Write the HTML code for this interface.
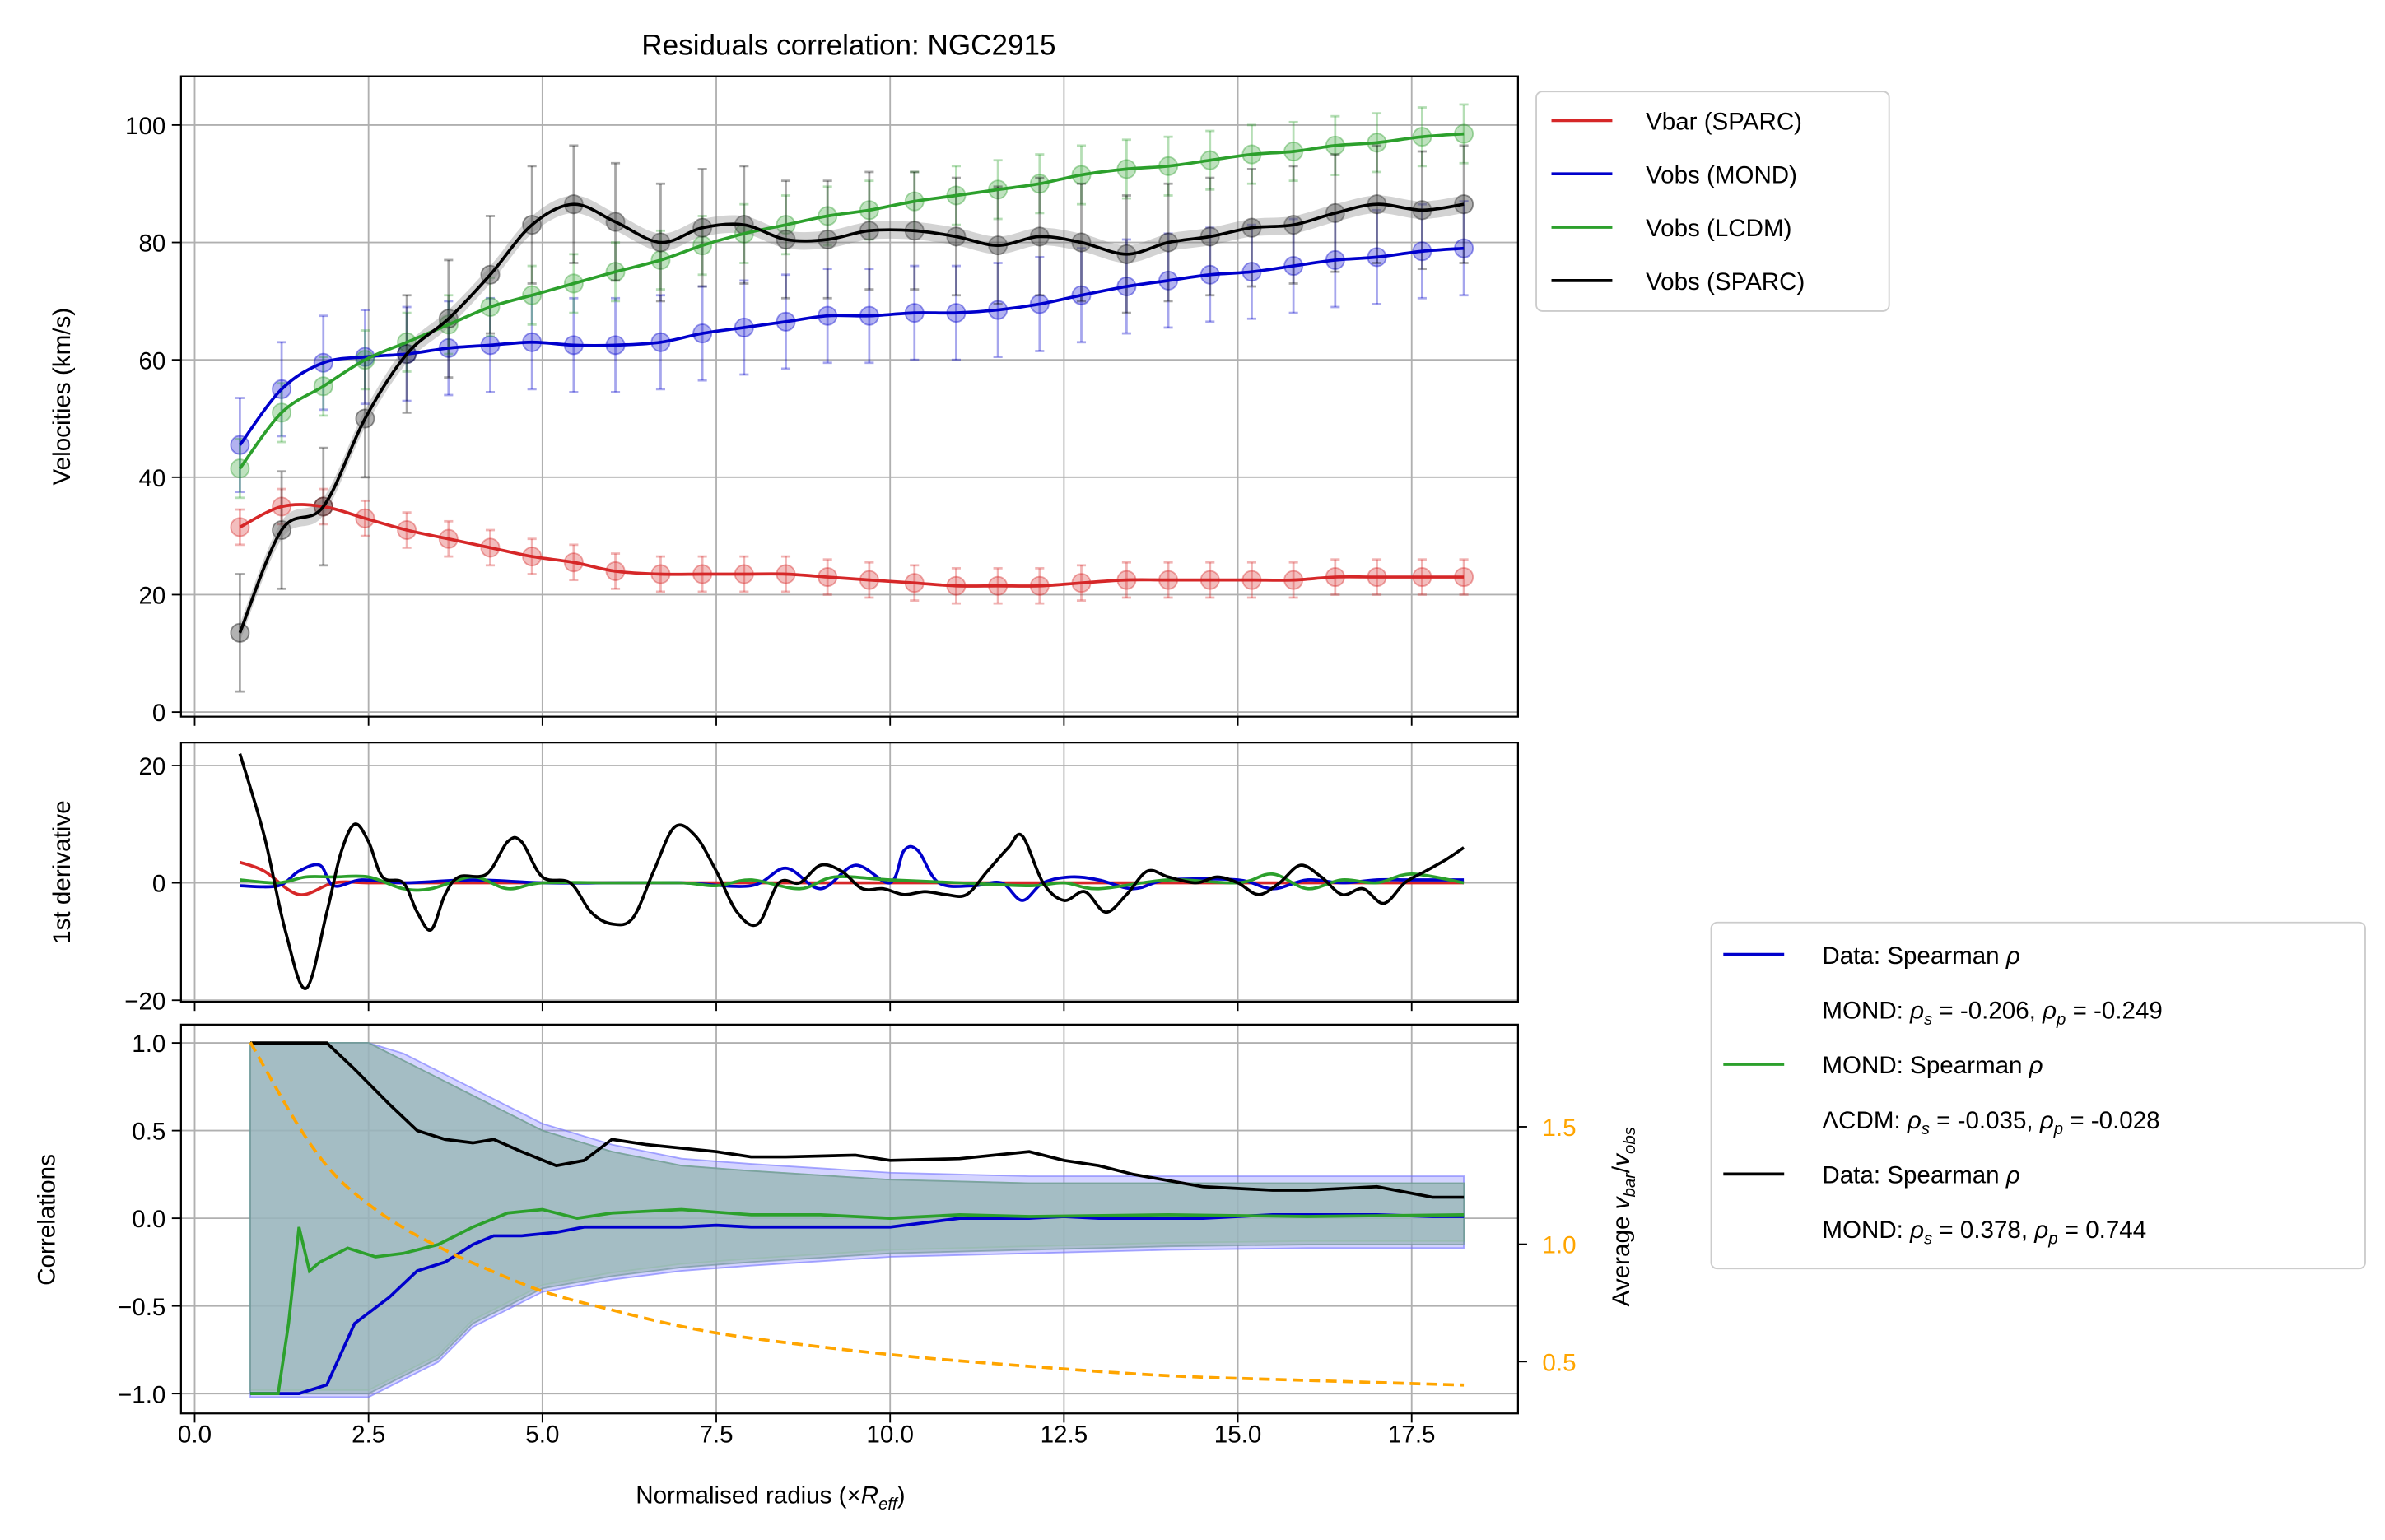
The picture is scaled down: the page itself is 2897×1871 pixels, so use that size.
<!DOCTYPE html>
<html><head><meta charset="utf-8">
<style>
html,body{margin:0;padding:0;background:#fff;}
svg{display:block;font-family:"Liberation Sans","DejaVu Sans",sans-serif;}
</style></head>
<body>
<svg id="chart" width="2897" height="1871" viewBox="0 0 1568 1010" preserveAspectRatio="none" xmlns="http://www.w3.org/2000/svg">
<rect width="1568" height="1010" fill="#fff"/>
</svg>
<script>
// ---- data ----
const radii = [0.65,1.25,1.85,2.45,3.05,3.65,4.25,4.85,5.45,6.05,6.7,7.3,7.9,8.5,9.1,9.7,10.35,10.95,11.55,12.15,12.75,13.4,14.0,14.6,15.2,15.8,16.4,17.0,17.65,18.25];
const vbar = [31.5,35,35,33,31,29.5,28,26.5,25.5,24,23.5,23.5,23.5,23.5,23,22.5,22,21.5,21.5,21.5,22,22.5,22.5,22.5,22.5,22.5,23,23,23,23];
const vmond = [45.5,55,59.5,60.5,61,62,62.5,63,62.5,62.5,63,64.5,65.5,66.5,67.5,67.5,68,68,68.5,69.5,71,72.5,73.5,74.5,75,76,77,77.5,78.5,79];
const vlcdm = [41.5,51,55.5,60,63,66,69,71,73,75,77,79.5,81.5,83,84.5,85.5,87,88,89,90,91.5,92.5,93,94,95,95.5,96.5,97,98,98.5];
const vsparc = [13.5,31,35,50,61,67,74.5,83,86.5,83.5,80,82.5,83,80.5,80.5,82,82,81,79.5,81,80,78,80,81,82.5,83,85,86.5,85.5,86.5];
const errBar = 3, errMond = 8, errLcdm = 5, errSparc = 10;

const dBlackX = [0.65,1.0,1.3,1.6,1.9,2.1,2.3,2.5,2.7,3.0,3.2,3.4,3.6,3.8,4.2,4.5,4.7,5.0,5.4,5.7,6.0,6.3,6.6,6.9,7.2,7.5,7.8,8.1,8.4,8.7,9.0,9.3,9.6,9.9,10.2,10.5,10.8,11.1,11.4,11.7,11.9,12.2,12.5,12.8,13.1,13.4,13.7,14.0,14.4,14.7,15.0,15.3,15.6,15.9,16.2,16.5,16.8,17.1,17.4,17.7,18.0,18.25];
const dBlackY = [22,8,-8,-18,-5,5,10,7,1,0,-5,-8,-2,1,1.5,7,7,1,0,-5,-7,-6,2,9.5,8,2,-5,-7,0,0,3,2,-1,-1,-2,-1.5,-2,-2,2,6,8,0,-3,-1.5,-5,-2,2,1,0,1,0,-2,0,3,1,-2,-1,-3.5,0,2,4,6];
const dBlueX = [0.65,1.2,1.5,1.8,2.0,2.4,3.0,4.0,5.0,6.0,7.0,8.0,8.5,9.0,9.5,10.0,10.2,10.4,10.7,11.2,11.6,11.9,12.2,12.6,13.0,13.5,14.0,15.0,15.5,16.0,16.5,17.0,17.5,18.25];
const dBlueY = [-0.5,-0.5,2,3,-0.5,0.5,0,0.5,0,0,0,-0.5,2.5,-1,3,0,5.5,5.5,0,-0.5,0,-3,0,1,0.5,-1,0.5,0.5,-1,0.5,0,0.5,0.5,0.5];
const dGreenX = [0.65,1.2,1.6,2.0,2.5,3.0,3.4,4.0,4.5,5.0,6.0,7.0,7.5,8.0,8.7,9.2,10.0,11.0,12.0,12.5,13.0,14.0,15.0,15.5,16.0,16.5,17.0,17.5,18.25];
const dGreenY = [0.5,0,1,1,1,-1,-1,1,-1,0,0,0,-0.5,0.5,-1,1,0.5,0,-0.5,0,-1,0.5,0,1.5,-1,0.5,0,1.5,0];
const dRedX = [0.65,1.0,1.5,2.0,2.5,3.0,5.0,8.0,10.0,12.0,15.0,18.25];
const dRedY = [3.5,2,-2,0,0,0,0,0,0,0,0,0];

const corrX = [0.8,1.2,1.5,1.9,2.3,2.8,3.2,3.6,4.0,4.3,4.7,5.2,5.6,6.0,6.5,7.0,7.5,8.0,8.5,9.5,10.0,11.0,12.0,12.5,13.0,13.5,14.5,15.5,16.0,17.0,17.8,18.25];
const corrBlack = [1,1,1,1,0.85,0.65,0.5,0.45,0.43,0.45,0.38,0.3,0.33,0.45,0.42,0.4,0.38,0.35,0.35,0.36,0.33,0.34,0.38,0.33,0.3,0.25,0.18,0.16,0.16,0.18,0.12,0.12];
const corrBlue = [-1,-1,-1,-0.95,-0.6,-0.45,-0.3,-0.25,-0.15,-0.1,-0.1,-0.08,-0.05,-0.05,-0.05,-0.05,-0.04,-0.05,-0.05,-0.05,-0.05,0,0,0.01,0,0,0,0.02,0.02,0.02,0.01,0.01];
const corrGreenX = [0.8,1.2,1.35,1.5,1.65,1.8,2.2,2.6,3.0,3.5,4.0,4.5,5.0,5.5,6.0,7.0,8.0,9.0,10.0,11.0,12.0,14.0,16.0,18.25];
const corrGreen = [-1,-1,-0.6,-0.05,-0.3,-0.25,-0.17,-0.22,-0.2,-0.15,-0.05,0.03,0.05,0.0,0.03,0.05,0.02,0.02,0.0,0.02,0.01,0.02,0.01,0.02];
const bandX = [0.8,2.5,3.0,3.5,4.0,4.5,5.0,6.0,7.0,8.0,10.0,12.0,14.0,16.0,18.25];
const bandUpper = [1,1,0.9,0.8,0.7,0.6,0.5,0.38,0.3,0.27,0.22,0.2,0.2,0.2,0.2];
const bandLower = [-1,-1,-0.9,-0.8,-0.6,-0.5,-0.4,-0.33,-0.28,-0.25,-0.2,-0.18,-0.16,-0.15,-0.15];
const ratioX = [0.8,1.5,2,2.5,3,3.5,4,5,6,7,8,10,12,14,16,18.25];
const ratioY = [1.86,1.5,1.3,1.17,1.07,0.99,0.92,0.8,0.72,0.65,0.6,0.53,0.48,0.44,0.42,0.40];

const xTicks = [0,2.5,5,7.5,10,12.5,15,17.5];
const xTickLabels = ["0.0","2.5","5.0","7.5","10.0","12.5","15.0","17.5"];
const yTopTicks = [0,20,40,60,80,100];
const yMidTicks = [-20,0,20];
const yBotTicks = [-1,-0.5,0,0.5,1];
const yBotLabels = ["\u22121.0","\u22120.5","0.0","0.5","1.0"];
const yRightTicks = [0.5,1.0,1.5];

// ---- scales ----
const L=119,R=998;
const X = v => 128 + v*45.72;
const Ytop = v => 467 - v*3.85;
const Ymid = v => 579 - v*3.85;
const Ybot = v => 799 - v*115;
const Yright = v => 816 - (v-1)*154;

const svg = document.getElementById('chart');
const NS='http://www.w3.org/2000/svg';
function mk(tag, attrs, parent){const e=document.createElementNS(NS,tag);for(const k in attrs)e.setAttribute(k,attrs[k]);(parent||svg).appendChild(e);return e;}
function smooth(xs, ys, fx, fy){
  const p=xs.map((x,i)=>[fx(x),fy(ys[i])]);
  let d='M'+p[0][0]+','+p[0][1];
  for(let i=0;i<p.length-1;i++){
    const p0=p[i-1]||p[i],p1=p[i],p2=p[i+1],p3=p[i+2]||p2;
    const c1=[p1[0]+(p2[0]-p0[0])/6,p1[1]+(p2[1]-p0[1])/6];
    const c2=[p2[0]-(p3[0]-p1[0])/6,p2[1]-(p3[1]-p1[1])/6];
    d+=` C${c1[0]},${c1[1]} ${c2[0]},${c2[1]} ${p2[0]},${p2[1]}`;
  }
  return d;
}
function text(str,x,y,attrs,name){const t=mk('text',Object.assign({x:x,y:y,'font-size':16,fill:'#000'},attrs||{}));t.textContent=str;return t;}

// ---- panels ----
const panels=[{t:50,b:470,name:'velocity-panel'},{t:487,b:657,name:'derivative-panel'},{t:672,b:927,name:'correlation-panel'}];
panels.forEach(p=>{
  const g=mk('g',{});
  
  
  xTicks.forEach(v=>{
    const l=mk('line',{x1:X(v),x2:X(v),y1:p.t,y2:p.b,stroke:'#b0b0b0','stroke-width':1},g);
    
    const tk=mk('line',{x1:X(v),x2:X(v),y1:p.b,y2:p.b+6,stroke:'#000','stroke-width':1},g);
    
  });
});
function hgrid(ticks,fy,labels,name){
  ticks.forEach((v,i)=>{
    const l=mk('line',{x1:L,x2:R,y1:fy(v),y2:fy(v),stroke:'#b0b0b0','stroke-width':1});
    
    const tk=mk('line',{x1:L-6,x2:L,y1:fy(v),y2:fy(v),stroke:'#000'});
    
    text(labels?labels[i]:(v<0?'\u2212'+(-v):String(v)),L-10,fy(v)+6,{'text-anchor':'end'},name+'-tick-label');
  });
}
hgrid(yTopTicks,Ytop,null,'y-top');
hgrid(yMidTicks,Ymid,null,'y-mid');
hgrid(yBotTicks,Ybot,yBotLabels,'y-bot');

// ---- top panel series ----
function series(vals,err,color,name){
  radii.forEach((x,i)=>{
    const e=mk('line',{x1:X(x),x2:X(x),y1:Ytop(vals[i]-err),y2:Ytop(vals[i]+err),stroke:color,'stroke-opacity':0.35,'stroke-width':1.5});
    
    [-err,err].forEach(s=>{const c=mk('line',{x1:X(x)-3,x2:X(x)+3,y1:Ytop(vals[i]+s),y2:Ytop(vals[i]+s),stroke:color,'stroke-opacity':0.35,'stroke-width':1.5});
      });
    const pt=mk('circle',{cx:X(x),cy:Ytop(vals[i]),r:6,fill:color,'fill-opacity':0.3,stroke:color,'stroke-opacity':0.4});
    
  });
}
series(vbar,errBar,'#d62728','vbar');
series(vmond,errMond,'#0000cc','vmond');
series(vlcdm,errLcdm,'#2ca02c','vlcdm');
series(vsparc,errSparc,'#000000','vsparc');
// sparc band
(function(){
  const up=vsparc.map(v=>v+1.5), lo=vsparc.map(v=>v-1.5);
  const d=smooth(radii,up,X,Ytop)+' L'+smooth(radii.slice().reverse(),lo.slice().reverse(),X,Ytop).slice(1)+' Z';
  const b=mk('path',{d:d,fill:'#808080','fill-opacity':0.35,stroke:'none'});
  
})();
[[vbar,'#d62728','vbar-line'],[vmond,'#0000cc','vmond-line'],[vlcdm,'#2ca02c','vlcdm-line'],[vsparc,'#000','vsparc-line']].forEach(s=>{
  const p=mk('path',{d:smooth(radii,s[0],X,Ytop),fill:'none',stroke:s[1],'stroke-width':2});
  
});

// ---- derivative panel ----
[[dRedX,dRedY,'#d62728','red'],[dBlueX,dBlueY,'#0000cc','blue'],[dGreenX,dGreenY,'#2ca02c','green'],[dBlackX,dBlackY,'#000','black']].forEach(s=>{
  const p=mk('path',{d:smooth(s[0],s[1],X,Ymid),fill:'none',stroke:s[2],'stroke-width':2});
  
});

// ---- correlation panel ----
function band(xs,up,lo,fill,op,stroke,name){
  let d='M'+X(xs[0])+','+Ybot(up[0]);
  xs.forEach((x,i)=>d+=' L'+X(x)+','+Ybot(up[i]));
  for(let i=xs.length-1;i>=0;i--)d+=' L'+X(xs[i])+','+Ybot(lo[i]);
  const b=mk('path',{d:d+' Z',fill:fill,'fill-opacity':op,stroke:stroke,'stroke-opacity':0.6});
  
}
band(bandX,bandUpper.map(v=>Math.min(1,v+0.04)),bandLower.map(v=>v-0.02),'#6f6fff',0.3,'#6f6fff','mond-correlation-band');
band(bandX,bandUpper,bandLower.map(v=>v+0.02),'#6cc46c',0.3,'#6cc46c','lcdm-correlation-band');
band(bandX,bandUpper,bandLower,'#9fb7bf',0.75,'#6a8f96','data-correlation-band');
function pl(xs,ys,fx,fy,color,name,dash){
  const p=mk('polyline',{points:xs.map((x,i)=>fx(x)+','+fy(ys[i])).join(' '),fill:'none',stroke:color,'stroke-width':2});
  if(dash)p.setAttribute('stroke-dasharray',dash);
  
}
pl(corrX,corrBlue,X,Ybot,'#0000cc','corr-mond-line');
pl(corrGreenX,corrGreen,X,Ybot,'#2ca02c','corr-lcdm-line');
pl(corrX,corrBlack,X,Ybot,'#000','corr-data-line');
const ratioD=smooth(ratioX,ratioY,X,Yright);
const rp=mk('path',{d:ratioD,fill:'none',stroke:'#ffa500','stroke-width':2,'stroke-dasharray':'7,4'});

yRightTicks.forEach(v=>{
  const tk=mk('line',{x1:R,x2:R+6,y1:Yright(v),y2:Yright(v),stroke:'#000'});
  
  text(v.toFixed(1),R+16,Yright(v)+6,{fill:'#ffa500'},'y-right-tick-label');
});

// panel frames
panels.forEach(p=>{const r=mk('rect',{x:L,y:p.t,width:R-L,height:p.b-p.t,fill:'none',stroke:'#000','stroke-width':1.2});
  });

// x tick labels
xTicks.forEach((v,i)=>text(xTickLabels[i],X(v),946,{'text-anchor':'middle'},'x-tick-label'));
const xt=text('',418,986,{},'x-axis-title');
xt.innerHTML='Normalised radius (\u00d7<tspan font-style="italic">R</tspan><tspan font-style="italic" font-size="11" dy="4">eff</tspan><tspan dy="-4">)</tspan>';

text('Residuals correlation: NGC2915',558,36,{'text-anchor':'middle','font-size':19},'chart-title');
text('Velocities (km/s)',0,0,{'text-anchor':'middle',transform:'translate(46,260) rotate(-90)'},'y-top-axis-title');
text('1st derivative',0,0,{'text-anchor':'middle',transform:'translate(46,572) rotate(-90)'},'y-mid-axis-title');
text('Correlations',0,0,{'text-anchor':'middle',transform:'translate(36,800) rotate(-90)'},'y-bot-axis-title');
const rt=text('',0,0,{'text-anchor':'middle',transform:'translate(1071,798) rotate(-90)'},'y-right-axis-title');
rt.innerHTML='Average <tspan font-style="italic">v</tspan><tspan font-style="italic" font-size="11" dy="4">bar</tspan><tspan dy="-4">/</tspan><tspan font-style="italic">v</tspan><tspan font-style="italic" font-size="11" dy="4">obs</tspan>';

// legend 1
(function(){
  const g=mk('g',{});
  const r=mk('rect',{x:1010,y:60,width:232,height:144,rx:4,fill:'#fff',stroke:'#ccc'},g);
  
  [['Vbar (SPARC)','#d62728'],['Vobs (MOND)','#0000cc'],['Vobs (LCDM)','#2ca02c'],['Vobs (SPARC)','#000']].forEach((e,i)=>{
    const y=79+i*35;
    const l=mk('line',{x1:1020,x2:1060,y1:y,y2:y,stroke:e[1],'stroke-width':2},g);
    
    const t=text(e[0],1082,y+6,{},'legend-entry');g.appendChild(t);
  });
})();
// legend 2
(function(){
  const g=mk('g',{});
  const r=mk('rect',{x:1125,y:605,width:430,height:227,rx:4,fill:'#fff',stroke:'#ccc'},g);
  
  const rows=[
    ['l','#0000cc','Data: Spearman <tspan font-style="italic">\u03c1</tspan>'],
    ['t','','MOND: <tspan font-style="italic">\u03c1</tspan><tspan font-size="11" font-style="italic" dy="4">s</tspan><tspan dy="-4"> = -0.206, </tspan><tspan font-style="italic">\u03c1</tspan><tspan font-size="11" font-style="italic" dy="4">p</tspan><tspan dy="-4"> = -0.249</tspan>'],
    ['l','#2ca02c','MOND: Spearman <tspan font-style="italic">\u03c1</tspan>'],
    ['t','','\u039bCDM: <tspan font-style="italic">\u03c1</tspan><tspan font-size="11" font-style="italic" dy="4">s</tspan><tspan dy="-4"> = -0.035, </tspan><tspan font-style="italic">\u03c1</tspan><tspan font-size="11" font-style="italic" dy="4">p</tspan><tspan dy="-4"> = -0.028</tspan>'],
    ['l','#000','Data: Spearman <tspan font-style="italic">\u03c1</tspan>'],
    ['t','','MOND: <tspan font-style="italic">\u03c1</tspan><tspan font-size="11" font-style="italic" dy="4">s</tspan><tspan dy="-4"> = 0.378, </tspan><tspan font-style="italic">\u03c1</tspan><tspan font-size="11" font-style="italic" dy="4">p</tspan><tspan dy="-4"> = 0.744</tspan>']
  ];
  rows.forEach((e,i)=>{
    const y=626+i*36;
    if(e[0]==='l'){const l=mk('line',{x1:1133,x2:1173,y1:y,y2:y,stroke:e[1],'stroke-width':2},g);
      }
    const t=text('',1198,y+6,{},'legend-entry');t.innerHTML=e[2];g.appendChild(t);
  });
})();
</script>
</body></html>
